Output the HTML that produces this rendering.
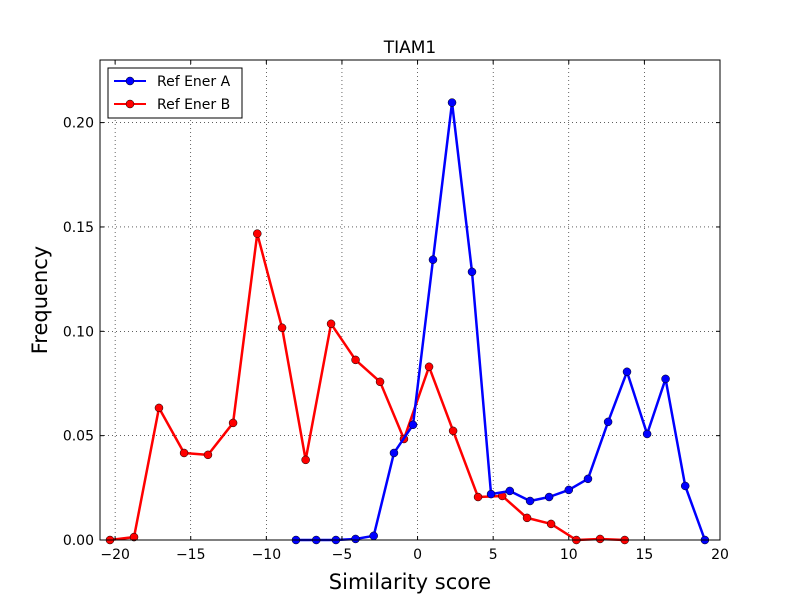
<!DOCTYPE html>
<html><head><meta charset="utf-8"><style>
body{margin:0;background:#fff;}
svg text{font-family:"DejaVu Sans","Liberation Sans",sans-serif;}
</style></head><body>
<svg id="chart" width="800" height="600" xmlns="http://www.w3.org/2000/svg">
<rect x="0" y="0" width="800" height="600" fill="#fff"/>
<g id="grid"></g>
<g id="series"></g>
<rect x="100" y="60" width="620" height="480" fill="none" stroke="#000" stroke-width="1"/>
<g id="ticks"></g>
<text x="410" y="53" text-anchor="middle" font-size="17">TIAM1</text>
<text x="410" y="589" text-anchor="middle" font-size="21">Similarity score</text>
<text x="47" y="300" text-anchor="middle" font-size="21" transform="rotate(-90 47 300)">Frequency</text>
<g>
<rect x="108" y="68" width="134" height="50" fill="#fff" stroke="#000" stroke-width="1"/>
<g>
<line x1="114" y1="81" x2="146" y2="81" stroke="#0000ff" stroke-width="2"/><circle cx="130" cy="81" r="4" fill="#0000ff" stroke="#000" stroke-width="0.5"/>
<text x="157" y="86" font-size="14">Ref Ener A</text></g>
<g>
<line x1="114" y1="104" x2="146" y2="104" stroke="#ff0000" stroke-width="2"/><circle cx="130" cy="104" r="4" fill="#ff0000" stroke="#000" stroke-width="0.5"/>
<text x="157" y="109" font-size="14">Ref Ener B</text></g>
</g>
</svg>
<script>
const xTicks=[-20,-15,-10,-5,0,5,10,15,20];
const yTicks=[0,0.05,0.10,0.15,0.20];
const yTickLabels=["0.00","0.05","0.10","0.15","0.20"];
const seriesAX=[-8.04,-6.7,-5.4,-4.1,-2.9,-1.56,-0.3,1.02,2.28,3.6,4.86,6.1,7.44,8.7,10.0,11.27,12.6,13.85,15.18,16.4,17.7,19.0];
const seriesAY=[0,0,0,0.0005,0.002,0.0417,0.0552,0.1343,0.2096,0.1285,0.022,0.0235,0.0187,0.0206,0.024,0.0293,0.0566,0.0806,0.0508,0.0772,0.0259,0];
const seriesBX=[-20.34,-18.75,-17.1,-15.44,-13.86,-12.2,-10.6,-8.96,-7.4,-5.72,-4.1,-2.48,-0.9,0.76,2.35,4.0,5.6,7.24,8.83,10.5,12.07,13.7];
const seriesBY=[0,0.0014,0.0633,0.0417,0.0408,0.0561,0.1468,0.1017,0.0384,0.1036,0.0863,0.0758,0.0484,0.083,0.0523,0.0206,0.0211,0.0106,0.0077,0,0.0005,0];
const NS="http://www.w3.org/2000/svg";
const X0=100,X1=720,Y0=540,Y1=60,xmin=-21,xmax=20,ymin=0,ymax=0.23;
function sx(v){return X0+(v-xmin)/(xmax-xmin)*(X1-X0);}
function sy(v){return Y0-(v-ymin)/(ymax-ymin)*(Y0-Y1);}
function mk(t,a,p){const e=document.createElementNS(NS,t);for(const k in a)e.setAttribute(k,a[k]);p.appendChild(e);return e;}
const grid=document.getElementById('grid'),ticks=document.getElementById('ticks'),ser=document.getElementById('series');
xTicks.forEach(v=>{const x=sx(v);
 const g=mk('line',{x1:x,x2:x,y1:Y1,y2:Y0,stroke:'#000','stroke-dasharray':'1,3','stroke-width':0.6},grid);
 
 
 mk('line',{x1:x,x2:x,y1:Y0,y2:Y0-4,stroke:'#000'},ticks);
 mk('line',{x1:x,x2:x,y1:Y1,y2:Y1+4,stroke:'#000'},ticks);
 const t=mk('text',{x:x,y:Y0+19,'text-anchor':'middle','font-size':14},ticks);t.textContent=(v<0?'\u2212'+(-v):v);
 
 
});
yTicks.forEach((v,i)=>{const y=sy(v);
 const g=mk('line',{x1:X0,x2:X1,y1:y,y2:y,stroke:'#000','stroke-dasharray':'1,3','stroke-width':0.6},grid);
 
 
 mk('line',{x1:X0,x2:X0+4,y1:y,y2:y,stroke:'#000'},ticks);
 mk('line',{x1:X1,x2:X1-4,y1:y,y2:y,stroke:'#000'},ticks);
 const t=mk('text',{x:X0-6,y:y+5,'text-anchor':'end','font-size':14},ticks);t.textContent=yTickLabels[i];
 
 
});
function draw(xs,ys,color,name){
 const pts=xs.map((x,i)=>sx(x)+','+sy(ys[i])).join(' ');
 const l=mk('polyline',{points:pts,fill:'none',stroke:color,'stroke-width':2.5,'stroke-linejoin':'round'},ser);
 
 
 xs.forEach((x,i)=>{const c=mk('circle',{cx:sx(x),cy:sy(ys[i]),r:4,fill:color,stroke:'#000','stroke-width':0.5},ser);
  
  });
}
draw(seriesBX,seriesBY,'#ff0000','ref-ener-b');
draw(seriesAX,seriesAY,'#0000ff','ref-ener-a');
</script>
</body></html>
